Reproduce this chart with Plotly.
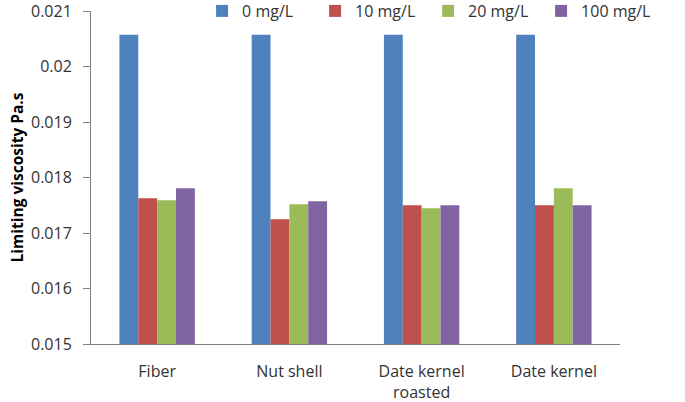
import plotly.graph_objects as go

categories = ["Fiber", "Nut shell", "Date kernel<br>roasted", "Date kernel"]
series_names = ["0 mg/L", "10 mg/L", "20 mg/L", "100 mg/L"]
v0 = [0.02057, 0.02057, 0.02057, 0.02057]
v10 = [0.017625, 0.017246, 0.017499, 0.017500]
v20 = [0.017589, 0.017517, 0.017445, 0.017805]
v100 = [0.017805, 0.017571, 0.017500, 0.017500]
tick_vals = [0.015, 0.016, 0.017, 0.018, 0.019, 0.020, 0.021]
tick_text = ["0.015", "0.016", "0.017", "0.018", "0.019", "0.02", "0.021"]

colors = ["#4F81BD", "#C0504D", "#9BBB59", "#8064A2"]
font_family = "Open Sans, Liberation Sans, sans-serif"

fig = go.Figure()
for name, vals, c in zip(series_names, [v0, v10, v20, v100], colors):
    fig.add_trace(go.Bar(x=categories, y=vals, name=name, marker_color=c,
                         marker_line_width=0))

fig.update_layout(
    width=685, height=402,
    margin=dict(l=91, r=65, t=11, b=58, autoexpand=False),
    plot_bgcolor="white", paper_bgcolor="white",
    barmode="group", bargap=0.43, bargroupgap=0,
    font=dict(family=font_family, size=14, color="#333333"),
    legend=dict(orientation="h", x=0.21, y=1.0, xanchor="left", yanchor="middle",
                font=dict(size=16, color="#333333"), itemwidth=30,
                entrywidth=68, entrywidthmode="pixels",
                bgcolor="rgba(0,0,0,0)", traceorder="normal"),
    xaxis=dict(showline=True, linecolor="#808080", linewidth=1, ticks="",
               tickfont=dict(size=16), showgrid=False, ticklabelstandoff=13,
               ticklabeloverflow="allow"),
    yaxis=dict(range=[0.015, 0.021], tickvals=tick_vals, ticktext=tick_text,
               showline=True, linecolor="#808080", linewidth=1, ticks="outside",
               ticklen=7, tickcolor="#808080", showgrid=False,
               tickfont=dict(size=16), ticklabelstandoff=8,
               ticklabeloverflow="allow",
               title=dict(text="<b>Limiting viscosity Pa.s</b>", font=dict(size=15.5, color="#000000"),
                          standoff=3)),
)
fig.write_html("out.html", config={"displayModeBar": False},
               post_script="document.body.style.margin='0';")
